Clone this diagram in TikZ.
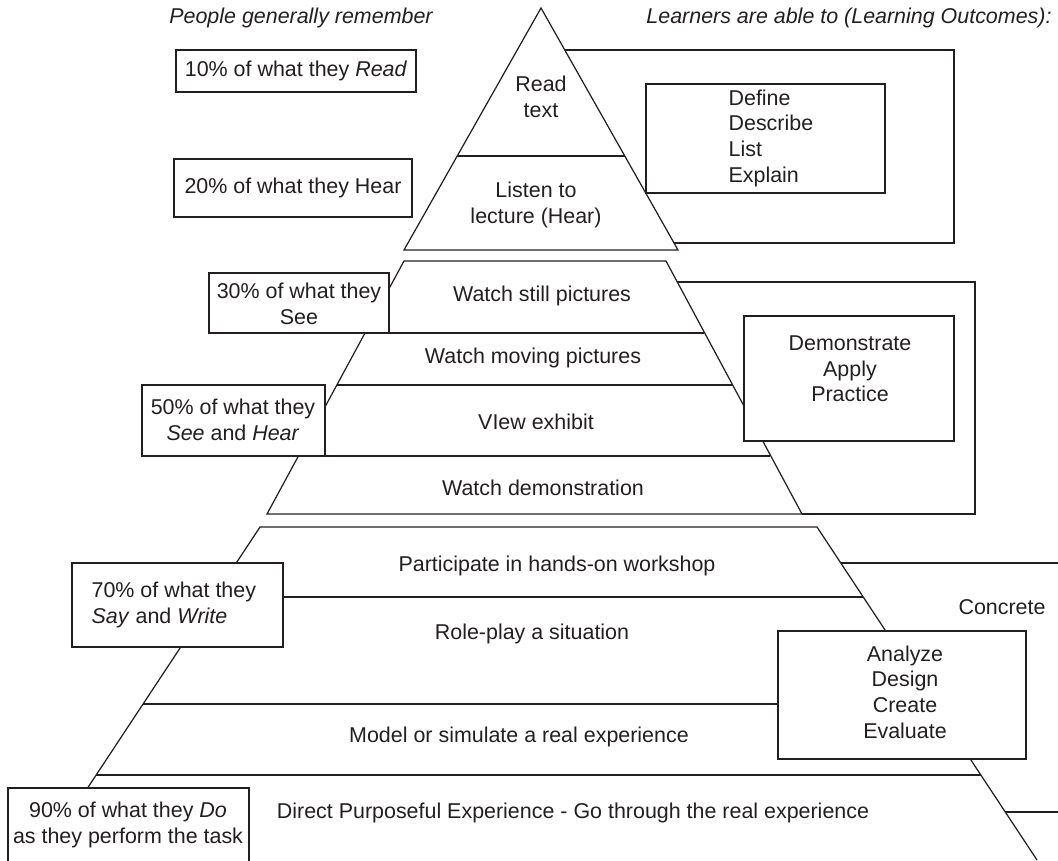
\documentclass[tikz,border=0pt]{standalone}
\usepackage{fontspec}
\setmainfont{Liberation Sans}
\definecolor{ink}{RGB}{35,31,32}
\tikzset{
	txt/.style={text=ink,inner sep=0pt,align=center,font=\fontsize{12.2}{14.6}\selectfont},
	head/.style={txt,font=\fontsize{12.2}{14.6}\selectfont\itshape},
	box/.style={draw=ink,fill=white}
}
\begin{document}
\begin{tikzpicture}[x=0.02cm,y=-0.02cm,line width=0.7pt,color=ink]
		\useasboundingbox (0,0) rectangle (1058,860);
		% headings
		\node[head] (hleft) at (301,18) {People generally remember};
		\node[head] (hright) at (849,18) {Learners are able to (Learning Outcomes):};
		% top triangle
		\draw (565,50) -- (954,50) -- (954,243) -- (674,243);
		\draw[box] (646,84) rectangle (885,193);
		\node[txt,align=left,anchor=west] (define) at (728,138) {Define\\Describe\\List\\Explain};
		\draw (541,8) -- (678,250) -- (404,250) -- cycle;
		\draw (457,156) -- (625,156);
		\node[txt] (read) at (541,97) {Read\\text};
		\node[txt] (listen) at (536,205) {Listen to\\lecture (Hear)};
		\draw[box] (176,50) rectangle (416,92);
		\node[txt] (pct10) at (296,71) {10\% of what they \textit{Read}};
		\draw[box] (174,159) rectangle (412,217);
		\node[txt] (pct20) at (293,188) {20\% of what they Hear};
		% middle part
		\draw (677,282) -- (975,282) -- (975,514) -- (802,514);
		\draw (404,261) -- (666,261) -- (802,514) -- (267,514) -- cycle;
		\draw (365,333) -- (704,333);
		\draw (337,385) -- (732,385);
		\draw (299,456) -- (770,456);
		\node[txt] (still) at (542,296) {Watch still pictures};
		\node[txt] (moving) at (533,358) {Watch moving pictures};
		\node[txt] (exhibit) at (536,422) {VIew exhibit};
		\node[txt] (demo) at (543,488) {Watch demonstration};
		\draw[box] (209,273) rectangle (389,333);
		\node[txt] (pct30) at (299,304) {30\% of what they\\See};
		\draw[box] (142,385) rectangle (325,456);
		\node[txt] (pct50) at (233,420) {50\% of what they\\\textit{See} and \textit{Hear}};
		\draw[box] (744,316) rectangle (954,441);
		\node[txt] (apply) at (850,369) {Demonstrate\\Apply\\Practice};
		% bottom part
		\draw (841,563) -- (1058,563);
		\draw (1005,812) -- (1058,812);
		\draw (1037,860) -- (817,527) -- (260,527) -- (40,860);
		\draw (214,597) -- (863,597);
		\draw (143,704) -- (887,704);
		\draw (96,775) -- (981,775);
		\node[txt] (workshop) at (557,566) {Participate in hands-on workshop};
		\node[txt] (roleplay) at (532,634) {Role-play a situation};
		\node[txt] (model) at (519,737) {Model or simulate a real experience};
		\node[txt] (direct) at (573,813) {Direct Purposeful Experience - Go through the real experience};
		\node[txt] (concrete) at (1002,607) {Concrete};
		\draw[box] (72,563) rectangle (283,647);
		\node[txt,align=left,anchor=west] (pct70) at (91,605) {70\% of what they\\\textit{Say} and \textit{Write}};
		\draw[box] (8,788) rectangle (249,880);
		\node[txt] (pct90) at (128,825) {90\% of what they \textit{Do}\\as they perform the task};
		\draw[box] (778,631) rectangle (1026,759);
		\node[txt] (analyze) at (905,692) {Analyze\\Design\\Create\\Evaluate};
		\end{tikzpicture}
\end{document}
